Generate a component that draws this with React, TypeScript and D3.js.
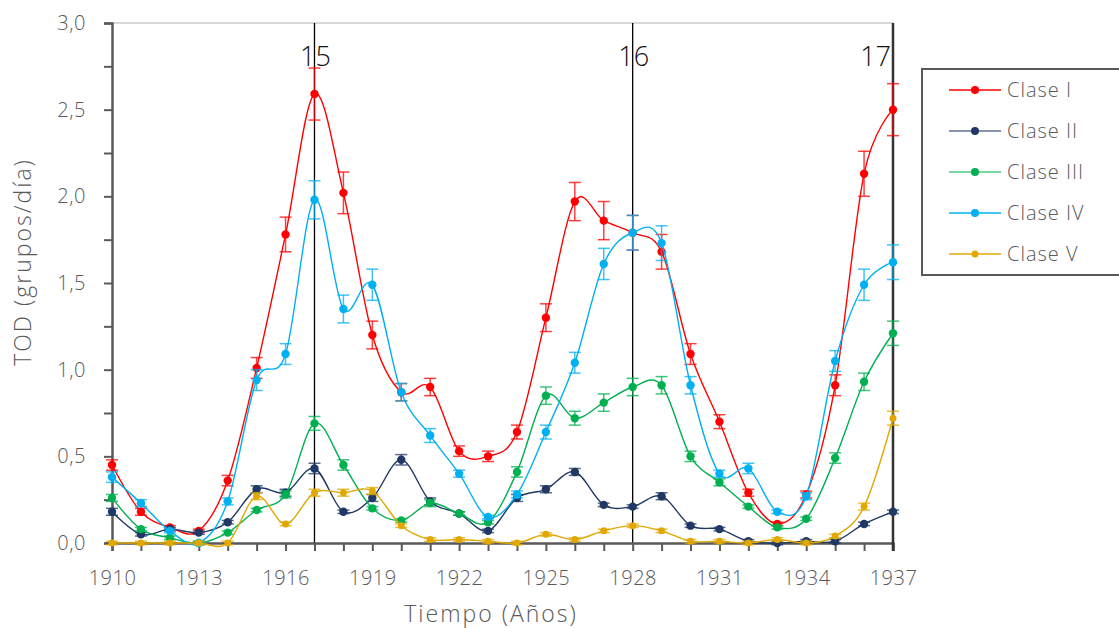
import * as d3 from 'd3'
import { useEffect, useRef } from 'react'

// years on the x axis
const years = d3.range(1910, 1938)
const tickYears = [1910, 1913, 1916, 1919, 1922, 1925, 1928, 1931, 1934, 1937]
const yTicks = [0, 0.5, 1, 1.5, 2, 2.5, 3]

// cycle markers (solar cycle numbers)
const cycleYears = [1917, 1928, 1937]
const cycleLabels = ['15', '16', '17']

const seriesNames = ['Clase I', 'Clase II', 'Clase III', 'Clase IV', 'Clase V']
const seriesColors = ['#ff0000', '#1f3864', '#00b050', '#00b0f0', '#e0a800']

const claseI = [0.45, 0.18, 0.09, 0.07, 0.36, 1.01, 1.78, 2.59, 2.02, 1.2, 0.87, 0.9, 0.53, 0.5, 0.64, 1.3, 1.97, 1.86, 1.79, 1.68, 1.09, 0.7, 0.29, 0.11, 0.28, 0.91, 2.13, 2.5]
const claseII = [0.18, 0.05, 0.08, 0.06, 0.12, 0.31, 0.29, 0.43, 0.18, 0.26, 0.48, 0.24, 0.17, 0.07, 0.26, 0.31, 0.41, 0.22, 0.21, 0.27, 0.1, 0.08, 0.01, 0.0, 0.01, 0.01, 0.11, 0.18]
const claseIII = [0.26, 0.08, 0.03, 0.0, 0.06, 0.19, 0.28, 0.69, 0.45, 0.2, 0.13, 0.23, 0.17, 0.12, 0.41, 0.85, 0.72, 0.81, 0.9, 0.91, 0.5, 0.35, 0.21, 0.09, 0.14, 0.49, 0.93, 1.21]
const claseIV = [0.38, 0.23, 0.07, 0.0, 0.24, 0.94, 1.09, 1.98, 1.35, 1.49, 0.87, 0.62, 0.4, 0.15, 0.28, 0.64, 1.04, 1.61, 1.79, 1.73, 0.91, 0.4, 0.43, 0.18, 0.27, 1.05, 1.49, 1.62]
const claseV = [0.0, 0.0, 0.0, 0.0, 0.0, 0.27, 0.11, 0.29, 0.29, 0.3, 0.1, 0.02, 0.02, 0.01, 0.0, 0.05, 0.02, 0.07, 0.1, 0.07, 0.01, 0.01, 0.0, 0.02, 0.0, 0.04, 0.21, 0.72]

// error bar half-widths
const errI = [0.03, 0.02, 0.01, 0.01, 0.03, 0.06, 0.1, 0.15, 0.12, 0.08, 0.05, 0.05, 0.03, 0.03, 0.04, 0.08, 0.11, 0.11, 0.1, 0.1, 0.06, 0.04, 0.02, 0.01, 0.02, 0.06, 0.13, 0.15]
const errII = [0.02, 0.01, 0.01, 0.01, 0.01, 0.02, 0.02, 0.03, 0.01, 0.02, 0.03, 0.02, 0.01, 0.01, 0.02, 0.02, 0.02, 0.01, 0.01, 0.02, 0.01, 0.01, 0.01, 0.01, 0.01, 0.01, 0.01, 0.01]
const errIII = [0.02, 0.01, 0.01, 0.01, 0.01, 0.01, 0.02, 0.04, 0.03, 0.01, 0.01, 0.02, 0.01, 0.01, 0.03, 0.05, 0.04, 0.05, 0.05, 0.05, 0.03, 0.02, 0.01, 0.01, 0.01, 0.03, 0.05, 0.07]
const errIV = [0.03, 0.02, 0.01, 0.01, 0.02, 0.06, 0.06, 0.11, 0.08, 0.09, 0.05, 0.04, 0.02, 0.01, 0.02, 0.04, 0.06, 0.09, 0.1, 0.1, 0.05, 0.02, 0.03, 0.01, 0.02, 0.06, 0.09, 0.1]
const errV = [0.01, 0.01, 0.01, 0.01, 0.01, 0.02, 0.01, 0.02, 0.02, 0.02, 0.01, 0.01, 0.01, 0.01, 0.01, 0.01, 0.01, 0.01, 0.01, 0.01, 0.01, 0.01, 0.01, 0.01, 0.01, 0.01, 0.02, 0.04]

const seriesValues = [claseI, claseII, claseIII, claseIV, claseV]
const seriesErrors = [errI, errII, errIII, errIV, errV]

const W = 1119
const H = 628
const FONT = "'Open Sans', 'DejaVu Sans', sans-serif"
const GREY = '#595959'

export default function App() {
  const svgRef = useRef<SVGSVGElement>(null)

  useEffect(() => {
    const svg = d3.select(svgRef.current)
    svg.selectAll('*').remove()

    const x = d3.scaleLinear().domain([1910, 1937]).range([112, 893])
    const y = d3.scaleLinear().domain([0, 3]).range([543, 23])

    const g = svg.append('g')

    // faint top border of plot area
    g.append('line')
      .attr('x1', x(1910)).attr('x2', x(1937))
      .attr('y1', y(3)).attr('y2', y(3))
      .attr('stroke', '#b0b0b0').attr('stroke-width', 1)

    // cycle lines
    cycleYears.forEach((yr, i) => {
      g.append('line')
        .attr('x1', x(yr)).attr('x2', x(yr))
        .attr('y1', y(3)).attr('y2', y(0))
        .attr('stroke', '#000').attr('stroke-width', 1.3)
      g.append('text')
        .attr('x', i === 2 ? x(yr) - 2 : x(yr) + 1)
        .attr('y', 66)
        .attr('text-anchor', i === 2 ? 'end' : 'middle')
        .attr('font-family', FONT)
        .attr('font-weight', 300)
        .attr('font-size', 27)
        .attr('fill', '#111')
        .text(cycleLabels[i])
    })

    // y axis
    const yAxis = d3.axisLeft(y)
      .tickValues(d3.range(0, 3.01, 0.25))
      .tickSize(8)
      .tickFormat((d) => {
        const v = +d
        return yTicks.some(t => Math.abs(t - v) < 1e-6) ? d3.format('.1f')(v).replace('.', ',') : ''
      })
    const ya = g.append('g').attr('transform', `translate(${x(1910)},0)`).call(yAxis)
    ya.select('.domain').attr('stroke', GREY).attr('stroke-width', 2.5)
    ya.selectAll('.tick line').attr('stroke', GREY).attr('stroke-width', 2)
    ya.selectAll('.tick text')
      .attr('font-family', FONT).attr('font-weight', 300).attr('font-size', 20).attr('fill', GREY)
      .attr('letter-spacing', 0.5)
      .attr('x', -26)

    // x axis
    const xAxis = d3.axisBottom(x)
      .tickValues(years)
      .tickSize(8)
      .tickFormat((d) => tickYears.includes(+d) ? String(d) : '')
    const xa = g.append('g').attr('transform', `translate(0,${y(0)})`).call(xAxis)
    xa.select('.domain').attr('stroke', GREY).attr('stroke-width', 2.5)
    xa.selectAll('.tick line').attr('stroke', GREY).attr('stroke-width', 2)
    xa.selectAll('.tick text')
      .attr('font-family', FONT).attr('font-weight', 300).attr('font-size', 20).attr('fill', GREY)
      .attr('letter-spacing', 0.5)
      .attr('y', 28)

    // right edge
    g.append('line')
      .attr('x1', x(1937)).attr('x2', x(1937))
      .attr('y1', y(3)).attr('y2', y(0) + 8)
      .attr('stroke', '#333').attr('stroke-width', 2.5)

    // axis titles
    g.append('text')
      .attr('x', 491).attr('y', 622)
      .attr('text-anchor', 'middle')
      .attr('font-family', FONT).attr('font-weight', 300).attr('font-size', 23).attr('fill', GREY)
      .attr('letter-spacing', 2)
      .text('Tiempo (Años)')
    g.append('text')
      .attr('transform', 'translate(31,262) rotate(-90)')
      .attr('text-anchor', 'middle')
      .attr('font-family', FONT).attr('font-weight', 300).attr('font-size', 23).attr('fill', GREY)
      .attr('letter-spacing', 2)
      .text('TOD (grupos/día)')

    const line = d3.line<number>()
      .x((_, i) => x(years[i]))
      .y((d) => y(d))
      .curve(d3.curveCatmullRom.alpha(0))

    seriesValues.forEach((vals, s) => {
      const color = seriesColors[s]
      const errs = seriesErrors[s]
      const sg = g.append('g')

      sg.append('path')
        .datum(vals)
        .attr('d', line)
        .attr('fill', 'none')
        .attr('stroke', color)
        .attr('stroke-width', 1.4)

      // error bars
      const eb = sg.selectAll('g.err')
        .data(vals)
        .join('g')
        .attr('stroke', color)
        .attr('stroke-opacity', 0.75)
        .attr('stroke-width', 1.5)
      eb.append('line')
        .attr('x1', (_, i) => x(years[i])).attr('x2', (_, i) => x(years[i]))
        .attr('y1', (d, i) => y(d + errs[i])).attr('y2', (d, i) => y(d - errs[i]))
      eb.append('line')
        .attr('x1', (_, i) => x(years[i]) - 6).attr('x2', (_, i) => x(years[i]) + 6)
        .attr('y1', (d, i) => y(d + errs[i])).attr('y2', (d, i) => y(d + errs[i]))
      eb.append('line')
        .attr('x1', (_, i) => x(years[i]) - 6).attr('x2', (_, i) => x(years[i]) + 6)
        .attr('y1', (d, i) => y(d - errs[i])).attr('y2', (d, i) => y(d - errs[i]))

      sg.selectAll('circle')
        .data(vals)
        .join('circle')
        .attr('cx', (_, i) => x(years[i]))
        .attr('cy', (d) => y(d))
        .attr('r', s === 4 ? 3.5 : 4.2)
        .attr('fill', color)
    })

    // legend
    const lg = svg.append('g')
    lg.append('rect')
      .attr('x', 922).attr('y', 69)
      .attr('width', 210).attr('height', 206)
      .attr('fill', 'white')
      .attr('stroke', GREY).attr('stroke-width', 2)
    seriesNames.forEach((name, i) => {
      const cy = 90 + i * 41
      lg.append('line')
        .attr('x1', 949).attr('x2', 1001)
        .attr('y1', cy).attr('y2', cy)
        .attr('stroke', seriesColors[i]).attr('stroke-width', 1.6)
        .attr('stroke-opacity', i === 0 || i === 3 || i === 4 ? 1 : 0.7)
      lg.append('circle')
        .attr('cx', 975).attr('cy', cy)
        .attr('r', i === 4 ? 3.5 : 4)
        .attr('fill', seriesColors[i])
      lg.append('text')
        .attr('x', 1007).attr('y', cy + 7)
        .attr('font-family', FONT).attr('font-weight', 300).attr('font-size', 20).attr('fill', GREY)
        .attr('letter-spacing', 1)
        .text(name)
    })
  }, [])

  return (
    <div style={{ position: 'absolute', left: 0, top: 0 }}>
      <svg ref={svgRef} width={W} height={H} style={{ display: 'block', background: 'white' }} />
    </div>
  )
}
